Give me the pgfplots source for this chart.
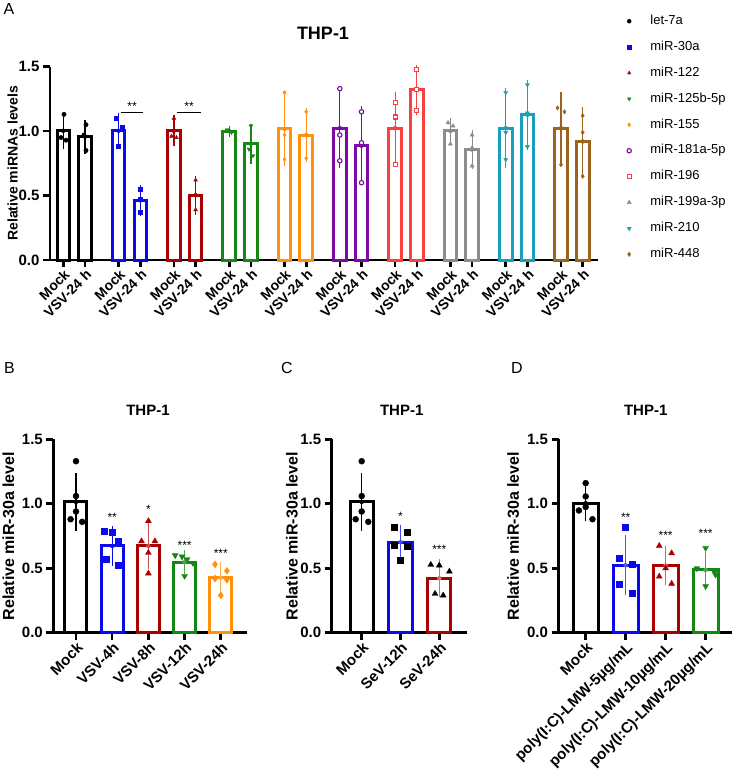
\documentclass[border=0pt]{standalone}
\usepackage{pgfplots}
\pgfplotsset{compat=1.18}
\usepackage{fontspec}
\setmainfont{Liberation Sans}

\definecolor{cK}{RGB}{0,0,0}
\definecolor{cB}{RGB}{10,10,235}
\definecolor{cR}{RGB}{170,0,0}
\definecolor{cG}{RGB}{20,135,20}
\definecolor{cO}{RGB}{255,145,15}
\definecolor{cP}{RGB}{125,10,165}
\definecolor{cL}{RGB}{250,65,65}
\definecolor{cY}{RGB}{140,140,140}
\definecolor{cC}{RGB}{25,160,190}
\definecolor{cW}{RGB}{155,100,30}

\newcommand\fs[1]{\fontsize{#1bp}{#1bp}\selectfont}

\pgfplotsset{
  prism/.style={
    scale only axis, clip=false, enlargelimits=false,
    axis x line*=bottom, axis y line*=left,
    axis line style={line width=2.6bp, -},
    tick style={line width=2.6bp, black},
    tick align=outside, major tick length=7bp,
    ymin=0, ymax=1.5, ytick={0,0.5,1,1.5},
    /pgf/number format/assume math mode=true,
    yticklabel style={/pgf/number format/fixed, /pgf/number format/fixed zerofill, /pgf/number format/precision=1},
  },
  hollowbar/.style={ybar, bar shift=0pt, bar width=#1, fill=white, line width=3bp},
  ebar/.style={only marks, mark=none, color=#1,
    error bars/.cd, y dir=both, y explicit,
    error bar style={line width=1.2bp, color=#1},
    error mark options={line width=1.2bp, mark size=4bp, color=#1}},
  pts/.style={only marks, mark size=3bp},
}

\begin{document}
\begin{tikzpicture}
\path[use as bounding box] (0,0) rectangle (735bp,-774bp);

% ---------------- A: miRNA screen ----------------
\begin{axis}[prism, at={(50bp,-260bp)}, anchor=south west,
  width=548bp, height=193.3bp, xmin=50, xmax=598,
  xtick={63.3,85,118.6,140.3,173.9,195.6,229.2,250.9,284.5,306.2,339.8,361.5,395.1,416.8,450.4,472.1,505.7,527.4,561,582.7},
  xticklabels={Mock,VSV-24 h,Mock,VSV-24 h,Mock,VSV-24 h,Mock,VSV-24 h,Mock,VSV-24 h,Mock,VSV-24 h,Mock,VSV-24 h,Mock,VSV-24 h,Mock,VSV-24 h,Mock,VSV-24 h},
  xticklabel style={rotate=45, anchor=north east, font=\bfseries\fs{14}, inner sep=1bp},
  yticklabel style={font=\bfseries\fs{15}},
  ylabel={Relative miRNAs levels},
  ylabel style={at={(axis description cs:-0.068,0.5)}, anchor=center, font=\bfseries\fs{14}},
  legend style={at={(axis description cs:1.0511,1.2675)}, anchor=north west,
    draw=none, fill=none, font=\fs{13}, inner sep=0pt, outer sep=0pt,
    row sep=13.4bp, column sep=18bp,
    nodes={inner sep=0pt, text height=9.5bp, text depth=3bp}},
  legend cell align=left,
  legend image code/.code={\path (-3bp,0bp) (3bp,0bp); \draw[#1] plot coordinates {(0bp,0bp)};},
]
\addlegendimage{mark=*, mark size=2bp, cK}\addlegendentry{let-7a}
\addlegendimage{mark=square*, mark size=1.8bp, cB}\addlegendentry{miR-30a}
\addlegendimage{mark=triangle*, mark size=2bp, cR}\addlegendentry{miR-122}
\addlegendimage{mark=triangle*, mark size=2bp, mark options={rotate=180}, cG}\addlegendentry{miR-125b-5p}
\addlegendimage{mark=diamond*, mark size=2bp, cO}\addlegendentry{miR-155}
\addlegendimage{mark=*, mark size=2.2bp, mark options={fill=white, line width=1.1bp}, cP}\addlegendentry{miR-181a-5p}
\addlegendimage{mark=square*, mark size=2bp, mark options={fill=white, line width=1.1bp}, cL}\addlegendentry{miR-196}
\addlegendimage{mark=triangle*, mark size=2.4bp, cY}\addlegendentry{miR-199a-3p}
\addlegendimage{mark=triangle*, mark size=2.4bp, mark options={rotate=180}, cC}\addlegendentry{miR-210}
\addlegendimage{mark=diamond*, mark size=2.2bp, cW}\addlegendentry{miR-448}

% bars: Mock / VSV-24 h for each miRNA
\addplot[hollowbar=12.6, draw=cK] coordinates {(63.3,1.003) (85,0.957)};
\addplot[hollowbar=12.6, draw=cB] coordinates {(118.6,1.003) (140.3,0.463)};
\addplot[hollowbar=12.6, draw=cR] coordinates {(173.9,1.003) (195.6,0.503)};
\addplot[hollowbar=12.6, draw=cG] coordinates {(229.2,1.0) (250.9,0.903)};
\addplot[hollowbar=12.6, draw=cO] coordinates {(284.5,1.017) (306.2,0.970)};
\addplot[hollowbar=12.6, draw=cP] coordinates {(339.8,1.023) (361.5,0.887)};
\addplot[hollowbar=12.6, draw=cL] coordinates {(395.1,1.023) (416.8,1.320)};
\addplot[hollowbar=12.6, draw=cY] coordinates {(450.4,1.002) (472.1,0.857)};
\addplot[hollowbar=12.6, draw=cC] coordinates {(505.7,1.023) (527.4,1.127)};
\addplot[hollowbar=12.6, draw=cW] coordinates {(561,1.023) (582.7,0.920)};

% mean +- SD
\addplot[ebar=cK] coordinates {(63.3,1.003) +- (0,0.11) (85,0.957) +- (0,0.10)};
\addplot[ebar=cB] coordinates {(118.6,1.003) +- (0,0.11) (140.3,0.463) +- (0,0.09)};
\addplot[ebar=cR] coordinates {(173.9,1.003) +- (0,0.09) (195.6,0.503) +- (0,0.12)};
\addplot[ebar=cG] coordinates {(229.2,1.0) +- (0,0.012) (250.9,0.903) +- (0,0.125)};
\addplot[ebar=cO] coordinates {(284.5,1.017) +- (0,0.26) (306.2,0.970) +- (0,0.18)};
\addplot[ebar=cP] coordinates {(339.8,1.023) +- (0,0.28) (361.5,0.887) +- (0,0.275)};
\addplot[ebar=cL] coordinates {(395.1,1.023) +- (0,0.25) (416.8,1.320) +- (0,0.16)};
\addplot[ebar=cY] coordinates {(450.4,1.002) +- (0,0.07) (472.1,0.857) +- (0,0.12)};
\addplot[ebar=cC] coordinates {(505.7,1.023) +- (0,0.28) (527.4,1.127) +- (0,0.24)};
\addplot[ebar=cW] coordinates {(561,1.023) +- (0,0.25) (582.7,0.920) +- (0,0.24)};

% replicates
\addplot[only marks, mark=*, mark size=2.2bp, cK] coordinates {(64,1.13) (61,0.95) (66,0.93) (86,1.05) (84,0.97) (86,0.85)};
\addplot[only marks, mark=square*, mark size=2bp, cB] coordinates {(116.5,1.10) (122,1.03) (118.6,0.88) (140.3,0.55) (140.3,0.47) (140.3,0.37)};
\addplot[only marks, mark=triangle*, mark size=2.2bp, cR] coordinates {(173.9,1.10) (171.5,0.96) (176.5,0.95) (195.6,0.62) (195.6,0.50) (195.6,0.39)};
\addplot[only marks, mark=triangle*, mark size=2.2bp, mark options={rotate=180}, cG] coordinates {(227,1.01) (229.2,1.0) (231.5,0.99) (250.9,1.04) (249,0.86) (253,0.81)};
\addplot[only marks, mark=diamond*, mark size=2bp, cO] coordinates {(284.5,1.30) (284.5,0.97) (284.5,0.78) (306.2,1.15) (306.2,0.97) (306.2,0.79)};
\addplot[only marks, mark=*, mark size=2.2bp, mark options={fill=white, line width=1.1bp}, cP] coordinates {(339.8,1.33) (339.8,0.97) (339.8,0.77) (361.5,1.15) (361.5,0.91) (361.5,0.60)};
\addplot[only marks, mark=square*, mark size=2bp, mark options={fill=white, line width=1.1bp}, cL] coordinates {(395.1,1.22) (395.1,1.11) (395.1,0.74) (416.8,1.48) (416.8,1.32) (416.8,1.16)};
\addplot[only marks, mark=triangle*, mark size=2.4bp, cY] coordinates {(448,1.065) (453,1.04) (450.4,0.90) (472.1,0.97) (472.1,0.87) (472.1,0.73)};
\addplot[only marks, mark=triangle*, mark size=2.4bp, mark options={rotate=180}, cC] coordinates {(505.7,1.30) (505.7,0.99) (505.7,0.78) (527.4,1.36) (527.4,1.14) (527.4,0.88)};
\addplot[only marks, mark=diamond*, mark size=2.2bp, cW] coordinates {(557.5,1.18) (564.5,1.15) (561,0.74) (582.7,1.12) (582.7,0.99) (582.7,0.65)};

\draw[line width=1.2bp] (axis cs:120.7,1.143) -- (axis cs:143.3,1.143);
\node[font=\fs{12}] at (axis cs:132,1.19) {**};
\draw[line width=1.2bp] (axis cs:177,1.143) -- (axis cs:201,1.143);
\node[font=\fs{12}] at (axis cs:189,1.19) {**};
\end{axis}

% ---------------- B: VSV time course ----------------
\begin{axis}[prism, at={(53.3bp,-632.7bp)}, anchor=south west,
  width=193.4bp, height=193.4bp, xmin=-0.627, xmax=4.716,
  xtick={0,1,2,3,4}, xticklabels={Mock,VSV-4h,VSV-8h,VSV-12h,VSV-24h},
  xticklabel style={rotate=45, anchor=north east, font=\bfseries\fs{15}, inner sep=1bp},
  yticklabel style={font=\bfseries\fs{15}},
  ylabel={Relative miR-30a level},
  ylabel style={at={(axis description cs:-0.232,0.5)}, anchor=center, font=\bfseries\fs{16}},
]
\addplot[hollowbar=0.608, draw=cK] coordinates {(0,1.014)};
\addplot[hollowbar=0.608, draw=cB] coordinates {(1,0.673)};
\addplot[hollowbar=0.608, draw=cR] coordinates {(2,0.673)};
\addplot[hollowbar=0.608, draw=cG] coordinates {(3,0.548)};
\addplot[hollowbar=0.608, draw=cO] coordinates {(4,0.426)};
\addplot[ebar=cK] coordinates {(0,1.014) +- (0,0.193)};
\addplot[ebar=cB] coordinates {(1,0.673) +- (0,0.122)};
\addplot[ebar=cR!70!white] coordinates {(2,0.673) +- (0,0.148)};
\addplot[ebar=cG!75!white] coordinates {(3,0.548) +- (0,0.064)};
\addplot[ebar=cO!75!white] coordinates {(4,0.426) +- (0,0.09)};
\addplot[pts, mark=*, cK] coordinates {(0,1.33) (0,1.06) (0,0.94) (-0.15,0.88) (0.17,0.86)};
\addplot[pts, mark=square*, cB] coordinates {(0.78,0.785) (1,0.78) (1.17,0.71) (0.84,0.57) (1.17,0.52)};
\addplot[pts, mark=triangle*, mark size=3.4bp, cR] coordinates {(2,0.866) (1.81,0.71) (2.18,0.71) (2,0.62) (2,0.46)};
\addplot[pts, mark=triangle*, mark size=3.4bp, mark options={rotate=180}, cG] coordinates {(2.74,0.60) (2.93,0.59) (3.07,0.57) (3.23,0.54) (3,0.44)};
\addplot[pts, mark=diamond*, mark size=3.4bp, cO] coordinates {(3.84,0.53) (4.17,0.48) (3.84,0.42) (4.17,0.41) (4,0.29)};
\node[font=\fs{12}] at (axis cs:1,0.895) {**};
\node[font=\fs{12}] at (axis cs:2,0.957) {*};
\node[font=\fs{12}] at (axis cs:3,0.674) {***};
\node[font=\fs{12}] at (axis cs:4,0.612) {***};
\end{axis}

% ---------------- C: SeV time course ----------------
\begin{axis}[prism, at={(331.7bp,-632.7bp)}, anchor=south west,
  width=135bp, height=193.4bp, xmin=-0.773, xmax=2.706,
  xtick={0,1,2}, xticklabels={Mock,SeV-12h,SeV-24h},
  xticklabel style={rotate=45, anchor=north east, font=\bfseries\fs{15}, inner sep=1bp},
  yticklabel style={font=\bfseries\fs{15}},
  ylabel={Relative miR-30a level},
  ylabel style={at={(axis description cs:-0.294,0.5)}, anchor=center, font=\bfseries\fs{16}},
]
\addplot[hollowbar=0.593, draw=cK] coordinates {(0,1.014)};
\addplot[hollowbar=0.593, draw=cB] coordinates {(1,0.702)};
\addplot[hollowbar=0.593, draw=cR] coordinates {(2,0.423)};
\addplot[ebar=cK] coordinates {(0,1.014) +- (0,0.193)};
\addplot[ebar=cB!75!white] coordinates {(1,0.702) +- (0,0.102)};
\addplot[ebar=cR!55!white] coordinates {(2,0.423) +- (0,0.118)};
\addplot[pts, mark=*, cK] coordinates {(0,1.33) (0,1.06) (0,0.94) (-0.155,0.88) (0.17,0.86)};
\addplot[pts, mark=square*, cK] coordinates {(0.845,0.82) (1.17,0.78) (0.845,0.68) (1.17,0.67) (1,0.56)};
\addplot[pts, mark=triangle*, mark size=3.4bp, cK] coordinates {(1.78,0.527) (2,0.522) (2.26,0.475) (1.89,0.302) (2.10,0.289)};
\node[font=\fs{12}] at (axis cs:1,0.90) {*};
\node[font=\fs{12}] at (axis cs:2,0.65) {***};
\end{axis}

% ---------------- D: poly(I:C) dose ----------------
\begin{axis}[prism, at={(558.5bp,-632.7bp)}, anchor=south west,
  width=173.5bp, height=193.4bp, xmin=-0.68, xmax=3.66,
  xtick={0,1,2,3}, xticklabels={Mock,poly(I:C)-LMW-5µg/mL,poly(I:C)-LMW-10µg/mL,poly(I:C)-LMW-20µg/mL},
  xticklabel style={rotate=45, anchor=north east, font=\bfseries\fs{15}, inner sep=1bp},
  yticklabel style={font=\bfseries\fs{15}},
  ylabel={Relative miR-30a level},
  ylabel style={at={(axis description cs:-0.262,0.5)}, anchor=center, font=\bfseries\fs{16}},
]
\addplot[hollowbar=0.625, draw=cK] coordinates {(0,1.004)};
\addplot[hollowbar=0.625, draw=cB] coordinates {(1,0.523)};
\addplot[hollowbar=0.625, draw=cR] coordinates {(2,0.521)};
\addplot[hollowbar=0.625, draw=cG] coordinates {(3,0.487)};
\addplot[ebar=cK] coordinates {(0,1.004) +- (0,0.108)};
\addplot[ebar=cB!70!white] coordinates {(1,0.523) +- (0,0.2)};
\addplot[ebar=cR!60!white] coordinates {(2,0.521) +- (0,0.123)};
\addplot[ebar=cG!75!white] coordinates {(3,0.487) +- (0,0.108)};
\addplot[pts, mark=*, cK] coordinates {(0,1.16) (0,1.057) (0,0.975) (-0.17,0.948) (0.17,0.88)};
\addplot[pts, mark=square*, cB] coordinates {(1,0.822) (0.83,0.576) (1.17,0.533) (0.83,0.375) (1.17,0.31)};
\addplot[pts, mark=triangle*, mark size=3.4bp, cR] coordinates {(1.84,0.674) (2.15,0.617) (2,0.50) (1.84,0.436) (2.15,0.38)};
\addplot[pts, mark=triangle*, mark size=3.4bp, mark options={rotate=180}, cG] coordinates {(3,0.657) (2.78,0.50) (3.22,0.47) (3.25,0.45) (3,0.36)};
\node[font=\fs{12}] at (axis cs:1,0.895) {**};
\node[font=\fs{12}] at (axis cs:2,0.757) {***};
\node[font=\fs{12}] at (axis cs:3,0.77) {***};
\end{axis}

% titles and panel letters
\node[font=\bfseries\fs{18}] at (323bp,-33bp) {THP-1};
\node[font=\bfseries\fs{15}] at (148bp,-410bp) {THP-1};
\node[font=\bfseries\fs{15}] at (401.7bp,-410bp) {THP-1};
\node[font=\bfseries\fs{15}] at (645.7bp,-410bp) {THP-1};
\node[font=\fs{16}] at (9bp,-9bp) {A};
\node[font=\fs{16}] at (9.5bp,-368bp) {B};
\node[font=\fs{16}] at (287bp,-368bp) {C};
\node[font=\fs{16}] at (517bp,-368bp) {D};
\end{tikzpicture}
\end{document}
